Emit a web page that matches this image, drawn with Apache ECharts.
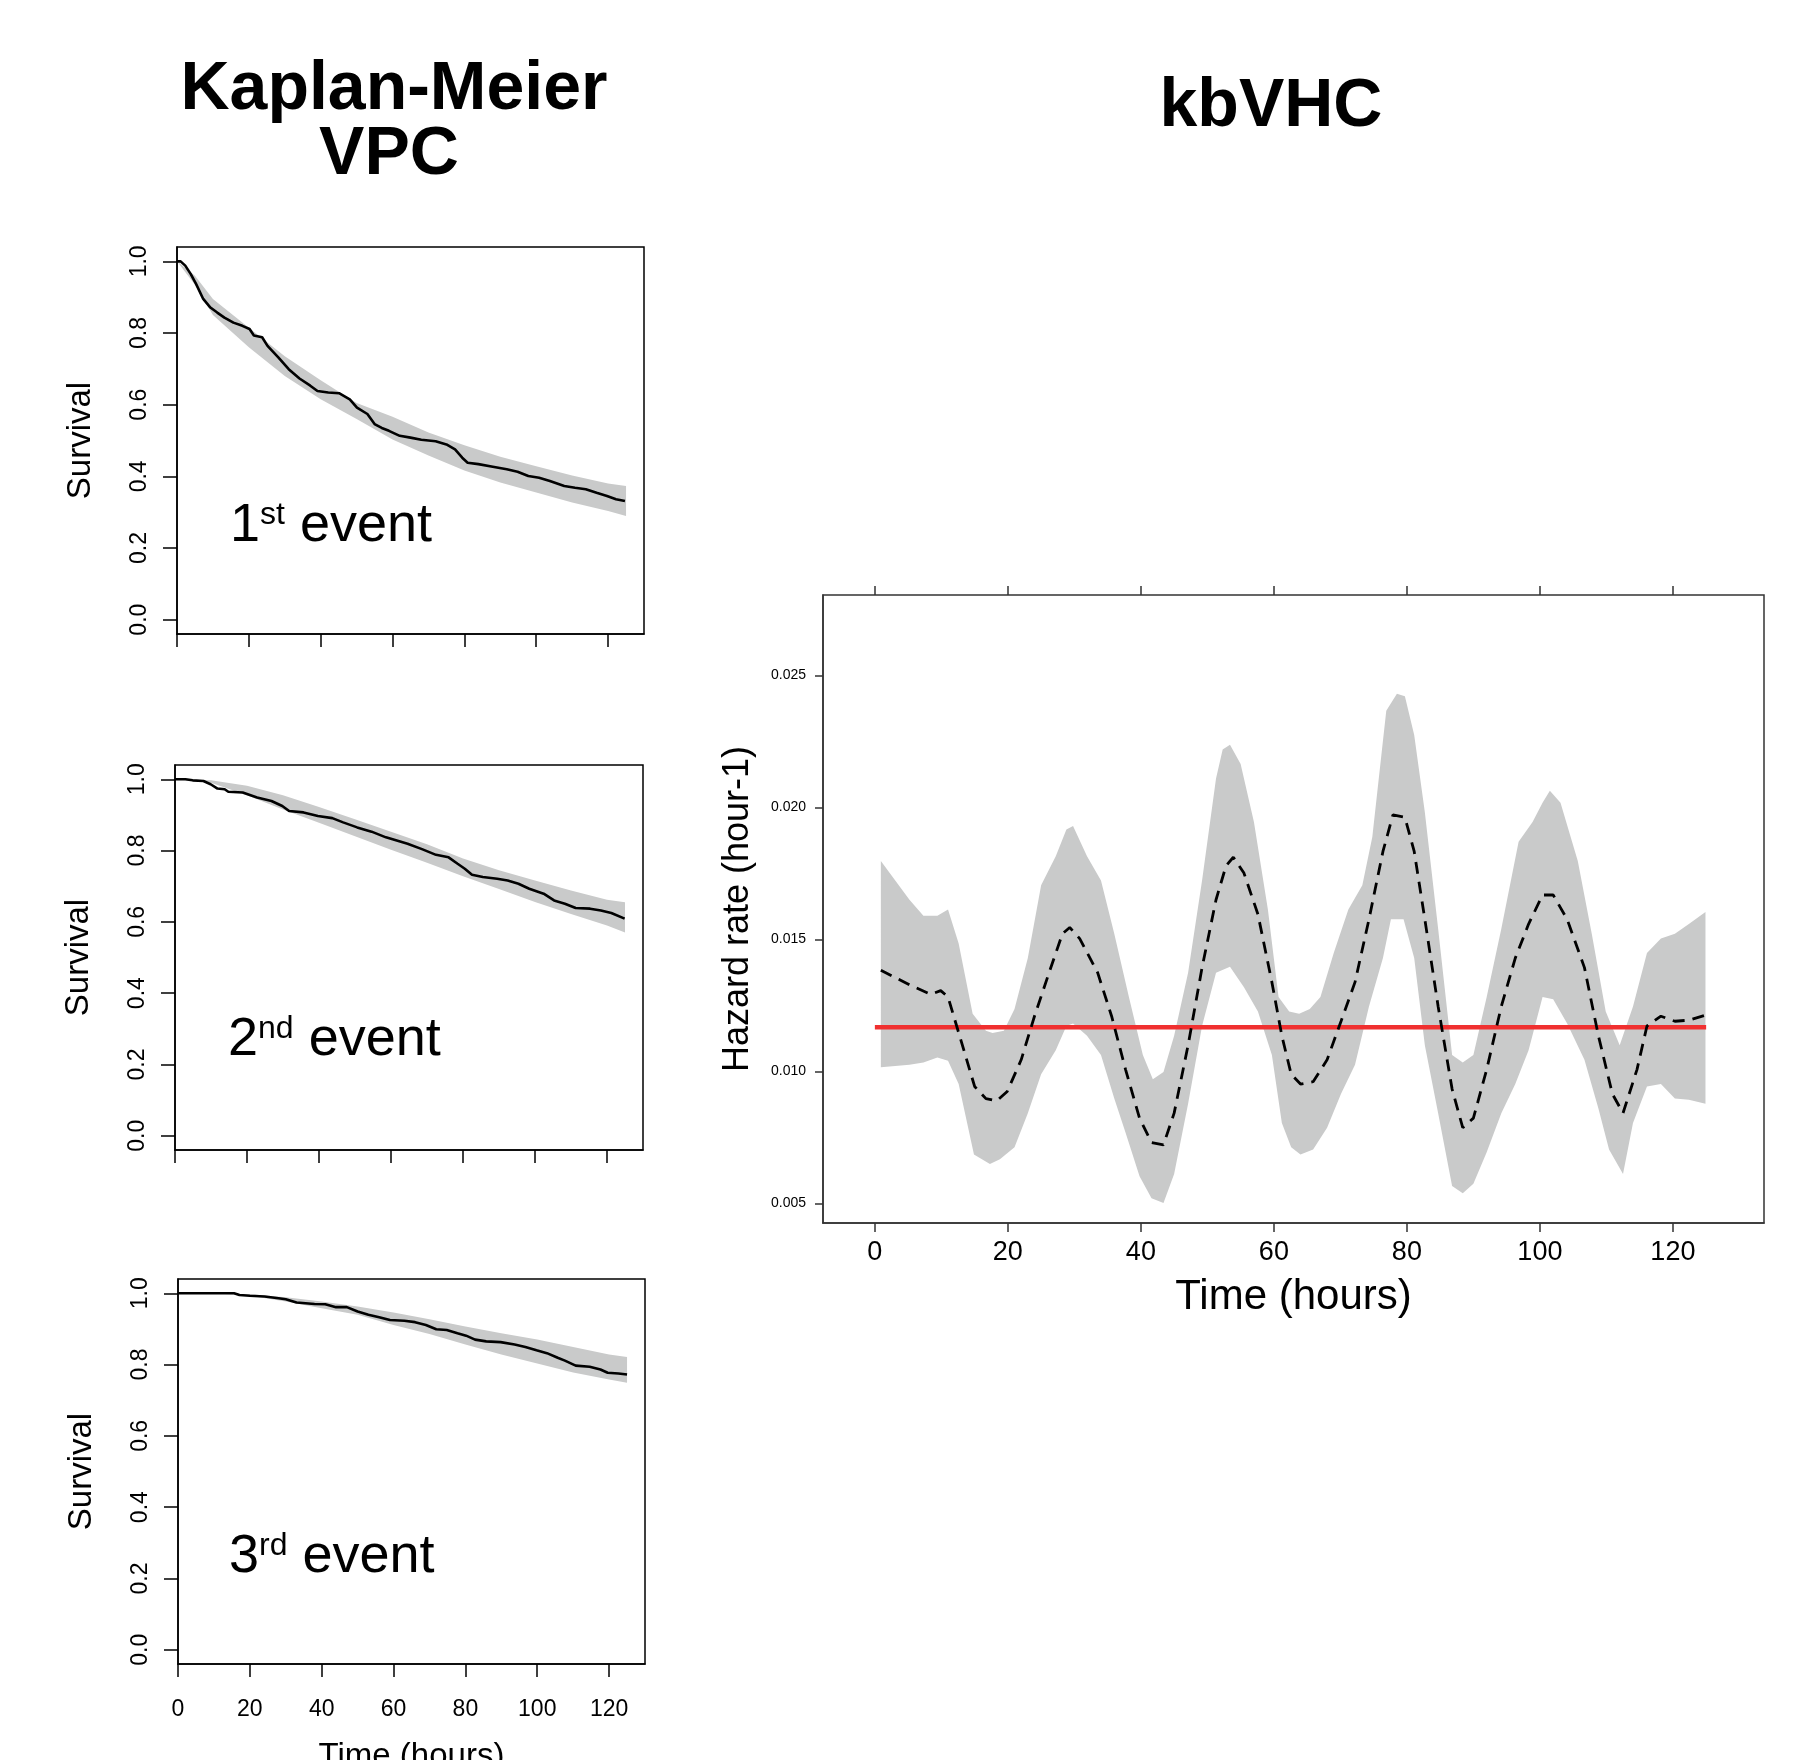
<!DOCTYPE html>
<html>
<head>
<meta charset="utf-8">
<script src="https://cdn.jsdelivr.net/npm/echarts@6/dist/echarts.min.js"></script>
<style>
  html, body { margin: 0; padding: 0; background: #ffffff; }
  #main { width: 1793px; height: 1760px; }
</style>
</head>
<body>
<div id="main"></div>
<script>
// Kaplan-Meier VPC, 1st event: observed curve and prediction band
var km1Time = [0, 1, 2.3, 3.8, 5.3, 7.3, 9.3, 11.2, 13.2, 15.7, 18.2, 20.2, 21.4, 23.7, 25.2, 28.2, 31.1, 34.1, 37.1, 39.1, 42.1, 45.1, 48.1, 50.1, 53, 55, 57, 59, 62, 65, 68, 72, 75, 77.4, 79.4, 80.9, 83.9, 87.9, 91.8, 94.8, 97.8, 100.8, 103.8, 107.8, 110.8, 113.8, 116.8, 119.7, 122.2, 124.7];
var km1Surv = [1.0, 1.0, 0.988, 0.965, 0.937, 0.895, 0.871, 0.857, 0.843, 0.829, 0.82, 0.811, 0.793, 0.788, 0.764, 0.732, 0.699, 0.673, 0.653, 0.638, 0.634, 0.632, 0.615, 0.592, 0.574, 0.546, 0.535, 0.527, 0.513, 0.508, 0.502, 0.498, 0.489, 0.475, 0.452, 0.438, 0.434, 0.427, 0.42, 0.413, 0.401, 0.396, 0.387, 0.373, 0.368, 0.364, 0.354, 0.345, 0.336, 0.331];
var km1BandTime = [0, 5, 10, 20, 30, 40, 50, 60, 70, 80, 90, 100, 110, 120, 125];
var km1Upper = [1.0, 0.96, 0.895, 0.815, 0.735, 0.668, 0.605, 0.566, 0.522, 0.487, 0.455, 0.428, 0.402, 0.38, 0.373];
var km1Lower = [1.0, 0.935, 0.85, 0.76, 0.68, 0.615, 0.56, 0.503, 0.458, 0.416, 0.383, 0.355, 0.327, 0.303, 0.289];

// 2nd event
var km2Time = [0, 2.9, 4.9, 7.9, 9.9, 11.8, 13.8, 14.8, 18.8, 22.8, 26.8, 29.8, 31.7, 35.7, 39.7, 43.7, 46.7, 50.6, 54.6, 58.6, 61.6, 64.6, 68.6, 72.5, 76, 78.5, 80.5, 82.5, 85.5, 89.5, 92.4, 95.4, 98.4, 102.4, 105.3, 108.3, 111.3, 115.3, 118.3, 121.2, 124.9];
var km2Surv = [1.0, 1.0, 0.997, 0.995, 0.986, 0.974, 0.972, 0.965, 0.963, 0.949, 0.939, 0.925, 0.911, 0.907, 0.897, 0.891, 0.879, 0.865, 0.853, 0.837, 0.828, 0.819, 0.804, 0.788, 0.781, 0.763, 0.749, 0.732, 0.726, 0.721, 0.716, 0.707, 0.693, 0.679, 0.66, 0.651, 0.639, 0.637, 0.632, 0.625, 0.609];
var km2BandTime = [0, 10, 20, 30, 40, 50, 60, 70, 80, 90, 100, 110, 120, 125];
var km2Upper = [1.0, 0.997, 0.982, 0.955, 0.922, 0.888, 0.853, 0.818, 0.778, 0.745, 0.716, 0.688, 0.662, 0.655];
var km2Lower = [1.0, 0.99, 0.955, 0.915, 0.878, 0.84, 0.802, 0.766, 0.728, 0.692, 0.656, 0.622, 0.59, 0.57];

// 3rd event
var km3Time = [0, 15.6, 17.1, 20, 24.1, 28, 30, 33, 38, 41, 44, 47, 50, 53, 56, 59, 63, 66, 69, 71.9, 74.8, 77.8, 80.2, 82.7, 85.8, 89.8, 93.7, 96.7, 99.8, 102.7, 105.7, 107.7, 110.7, 114.6, 117.6, 119.6, 122.6, 125];
var km3Surv = [1.0, 1.0, 0.995, 0.993, 0.991, 0.986, 0.983, 0.974, 0.97, 0.969, 0.961, 0.961, 0.949, 0.94, 0.933, 0.925, 0.923, 0.919, 0.911, 0.899, 0.897, 0.888, 0.881, 0.87, 0.865, 0.863, 0.856, 0.849, 0.84, 0.832, 0.819, 0.811, 0.797, 0.794, 0.786, 0.777, 0.775, 0.772];
var km3BandTime = [0, 10, 20, 30, 40, 50, 60, 70, 80, 90, 100, 110, 120, 125];
var km3Upper = [1.0, 1.0, 0.997, 0.989, 0.977, 0.963, 0.946, 0.927, 0.907, 0.888, 0.87, 0.849, 0.828, 0.821];
var km3Lower = [1.0, 1.0, 0.993, 0.977, 0.958, 0.94, 0.911, 0.886, 0.856, 0.828, 0.803, 0.778, 0.758, 0.749];

// kbVHC: hazard rate, median (dashed), prediction band, observed constant hazard (red)
var hazMeanX = [0.9, 5.2, 8.4, 9.9, 11, 12.3, 13.6, 15, 16.7, 18.3, 19.9, 22, 24, 26.2, 28.2, 29.3, 30.8, 33.5, 35.6, 37.7, 39.8, 41.6, 43.4, 45, 47.1, 49.2, 51.3, 52.8, 53.9, 55.5, 57.6, 59.7, 61.2, 62.6, 64, 65.9, 68, 70.1, 72.2, 74.3, 76.4, 77.9, 79.7, 81.1, 82.7, 84.7, 86.8, 88.4, 90, 92, 94.2, 96.3, 98.3, 100.4, 102, 104.1, 106.7, 108.8, 110.9, 112.5, 114.6, 116.1, 118.2, 120.3, 122.4, 124.9];
var hazMean = [0.01383, 0.01328, 0.01292, 0.01306, 0.01282, 0.01172, 0.01062, 0.00943, 0.00897, 0.00888, 0.00924, 0.01044, 0.01209, 0.01374, 0.01521, 0.01545, 0.01503, 0.01374, 0.01209, 0.01007, 0.00823, 0.00731, 0.00722, 0.00842, 0.01099, 0.01393, 0.0165, 0.01778, 0.01811, 0.01751, 0.01595, 0.01338, 0.01135, 0.00989, 0.00952, 0.00961, 0.01044, 0.0119, 0.01338, 0.01576, 0.01833, 0.01971, 0.01962, 0.01833, 0.01576, 0.01246, 0.00933, 0.00787, 0.00823, 0.01007, 0.01246, 0.01429, 0.01558, 0.01668, 0.01668, 0.01576, 0.01393, 0.01135, 0.00915, 0.00842, 0.01007, 0.01172, 0.01209, 0.0119, 0.01194, 0.01213];
var hazUpX = [0.9, 5.2, 7.3, 9.4, 11, 12.6, 14.7, 16.7, 17.7, 19.4, 21, 23, 25, 27.2, 28.8, 29.8, 31.9, 34, 36, 38.2, 40.3, 41.8, 43.4, 45, 47.1, 49.2, 51.3, 52.3, 53.4, 55, 57, 59.1, 60.7, 62.3, 63.8, 65.4, 67, 69, 71.2, 73.3, 74.8, 76.9, 78.5, 79.7, 81.1, 82.7, 84.7, 86.8, 88.4, 90, 92, 94.2, 96.8, 98.9, 100.4, 101.5, 103.1, 105.7, 107.8, 109.9, 112, 114, 116.1, 118.2, 120.3, 122.4, 124.9];
var hazUp = [0.01797, 0.0165, 0.01589, 0.01589, 0.01613, 0.01484, 0.01218, 0.01154, 0.01145, 0.01154, 0.01236, 0.01429, 0.01705, 0.01815, 0.01916, 0.01929, 0.01815, 0.01723, 0.01521, 0.01282, 0.01062, 0.0097, 0.00998, 0.01135, 0.01374, 0.01723, 0.02109, 0.02219, 0.02237, 0.02164, 0.01944, 0.01613, 0.01282, 0.01227, 0.01218, 0.01236, 0.01282, 0.01448, 0.01613, 0.01705, 0.01888, 0.02366, 0.0243, 0.02421, 0.02274, 0.01981, 0.0154, 0.01062, 0.01034, 0.01062, 0.01282, 0.0154, 0.0187, 0.01944, 0.02017, 0.02063, 0.02017, 0.01797, 0.01521, 0.01227, 0.01099, 0.01246, 0.01448, 0.01503, 0.01521, 0.01558, 0.01604];
var hazLoX = [0.9, 5.2, 7.3, 9.4, 11, 12.6, 14.9, 17.3, 18.8, 21, 23, 25, 27.2, 28.8, 29.8, 31.9, 34, 36, 37.7, 39.8, 41.6, 43.4, 45, 47.1, 49.2, 51.3, 53.4, 55.5, 57.6, 59.7, 61.2, 62.6, 64, 65.9, 68, 70.1, 72.2, 74.3, 76.4, 77.6, 79.5, 81.1, 82.7, 84.7, 86.8, 88.4, 90, 92, 94.2, 96.3, 98.3, 100.4, 102, 104.1, 106.7, 108.8, 110.4, 112.5, 114, 116.1, 118.2, 120.3, 122.4, 124.9];
var hazLo = [0.01016, 0.01025, 0.01034, 0.01053, 0.0104, 0.00952, 0.00685, 0.00649, 0.00667, 0.00713, 0.00842, 0.00989, 0.0108, 0.01172, 0.01181, 0.01135, 0.01062, 0.00897, 0.00768, 0.00603, 0.0052, 0.00502, 0.00612, 0.00878, 0.01172, 0.01374, 0.01396, 0.01319, 0.01227, 0.01062, 0.00805, 0.00713, 0.00685, 0.00704, 0.00787, 0.00915, 0.01025, 0.01246, 0.01429, 0.01576, 0.01576, 0.01429, 0.01099, 0.00842, 0.00566, 0.00539, 0.00575, 0.00694, 0.00842, 0.00952, 0.0108, 0.01282, 0.01273, 0.01181, 0.01044, 0.0086, 0.00704, 0.00612, 0.00805, 0.00943, 0.00952, 0.00897, 0.00893, 0.00878];
var hazObsX = [0, 125];
var hazObs = [0.01167, 0.01167];

// tick labels
var kmTimeTicks = [0, 20, 40, 60, 80, 100, 120];
var survTicks = [0, 0.2, 0.4, 0.6, 0.8, 1.0];
var hazTimeTicks = [0, 20, 40, 60, 80, 100, 120];
var hazTicks = [0.005, 0.010, 0.015, 0.020, 0.025];

var FONT = 'Liberation Sans, Arial, Helvetica, sans-serif';

function zip(xs, ys) {
    return xs.map(function (x, i) { return [x, ys[i]]; });
}

// band polygon: upper edge forward, lower edge backwards, through the axis scales
function bandSeries(idx, upX, upY, loX, loY) {
    return {
        type: 'custom',
        xAxisIndex: idx,
        yAxisIndex: idx,
        silent: true,
        z: 1,
        data: [[upX[0], upY[0]]],
        renderItem: function (params, api) {
            var pts = [];
            for (var i = 0; i < upX.length; i++) pts.push(api.coord([upX[i], upY[i]]));
            for (var j = loX.length - 1; j >= 0; j--) pts.push(api.coord([loX[j], loY[j]]));
            return {
                type: 'polygon',
                shape: { points: pts },
                style: { fill: '#c9caca', stroke: null }
            };
        }
    };
}

// left panels (Kaplan-Meier)
var kmGrids = [
    { left: 177, top: 247, width: 467, height: 387 },
    { left: 175, top: 765, width: 468, height: 385 },
    { left: 178, top: 1279, width: 467, height: 385 }
];

var grids = [], xAxes = [], yAxes = [], series = [];

kmGrids.forEach(function (g, i) {
    grids.push({ left: g.left, top: g.top, width: g.width, height: g.height, outerBoundsMode: 'none',
                 show: true, borderColor: '#000', borderWidth: 1.5, backgroundColor: 'transparent' });
    xAxes.push({
        type: 'value', gridIndex: i, min: 0, max: 130,
        axisLine: { show: true, onZero: false, lineStyle: { color: '#000', width: 1.5 } },
        axisTick: { show: true, customValues: kmTimeTicks, length: 13, lineStyle: { color: '#000', width: 1.5 } },
        axisLabel: { show: i === 2, customValues: kmTimeTicks, fontSize: 23, color: '#000', fontFamily: FONT, margin: 34 },
        splitLine: { show: false },
        name: i === 2 ? 'Time (hours)' : '',
        nameLocation: 'middle', nameGap: 76,
        nameTextStyle: { fontSize: 33, color: '#000', fontFamily: FONT }
    });
    yAxes.push({
        type: 'value', gridIndex: i, min: -0.04, max: 1.04,
        axisLine: { show: true, onZero: false, lineStyle: { color: '#000', width: 1.5 } },
        axisTick: { show: true, customValues: survTicks, length: 14, lineStyle: { color: '#000', width: 1.5 } },
        axisLabel: { show: true, customValues: survTicks, rotate: 90, fontSize: 23, color: '#000', fontFamily: FONT, margin: 26,
                     formatter: function (v) { return v.toFixed(1); } },
        splitLine: { show: false },
        name: 'Survival', nameLocation: 'middle', nameRotate: 90, nameGap: 80,
        nameTextStyle: { fontSize: 33, color: '#000', fontFamily: FONT }
    });
});

series.push(bandSeries(0, km1BandTime, km1Upper, km1BandTime, km1Lower));
series.push(bandSeries(1, km2BandTime, km2Upper, km2BandTime, km2Lower));
series.push(bandSeries(2, km3BandTime, km3Upper, km3BandTime, km3Lower));
[[km1Time, km1Surv], [km2Time, km2Surv], [km3Time, km3Surv]].forEach(function (d, i) {
    series.push({
        type: 'line', xAxisIndex: i, yAxisIndex: i, z: 3,
        data: zip(d[0], d[1]), showSymbol: false, silent: true,
        lineStyle: { color: '#000', width: 2.6 }
    });
});

// right panel (kbVHC)
grids.push({ left: 823, top: 595, width: 941, height: 628, outerBoundsMode: 'none',
             show: true, borderColor: '#333', borderWidth: 1.5, backgroundColor: 'transparent' });
xAxes.push({
    type: 'value', gridIndex: 3, min: -7.8, max: 133.7, position: 'bottom',
    axisLine: { show: true, onZero: false, lineStyle: { color: '#333', width: 1.5 } },
    axisTick: { show: true, customValues: hazTimeTicks, length: 9, lineStyle: { color: '#333', width: 1.5 } },
    axisLabel: { show: true, customValues: hazTimeTicks, fontSize: 27, color: '#000', fontFamily: FONT, margin: 16 },
    splitLine: { show: false },
    name: 'Time (hours)', nameLocation: 'middle', nameGap: 53,
    nameTextStyle: { fontSize: 42, color: '#000', fontFamily: FONT }
});
xAxes.push({
    type: 'value', gridIndex: 3, min: -7.8, max: 133.7, position: 'top',
    axisLine: { show: false },
    axisTick: { show: true, customValues: hazTimeTicks, length: 9, lineStyle: { color: '#333', width: 1.5 } },
    axisLabel: { show: false },
    splitLine: { show: false }
});
yAxes.push({
    type: 'value', gridIndex: 3, min: 0.00426, max: 0.02804,
    axisLine: { show: true, onZero: false, lineStyle: { color: '#333', width: 1.5 } },
    axisTick: { show: true, customValues: hazTicks, length: 8, lineStyle: { color: '#333', width: 1.5 } },
    axisLabel: { show: true, customValues: hazTicks, fontSize: 14, color: '#000', fontFamily: FONT, margin: 17,
                 formatter: function (v) { return v.toFixed(3); } },
    splitLine: { show: false },
    name: 'Hazard rate (hour-1)', nameLocation: 'middle', nameRotate: 90, nameGap: 67,
    nameTextStyle: { fontSize: 36, color: '#000', fontFamily: FONT }
});

series.push(bandSeries(3, hazUpX, hazUp, hazLoX, hazLo));
series.push({
    type: 'line', xAxisIndex: 3, yAxisIndex: 3, z: 3,
    data: zip(hazObsX, hazObs), showSymbol: false, silent: true,
    lineStyle: { color: '#f03030', width: 4.5 }
});
series.push({
    type: 'line', xAxisIndex: 3, yAxisIndex: 3, z: 4,
    data: zip(hazMeanX, hazMean), showSymbol: false, silent: true,
    lineStyle: { color: '#000', width: 2.8, type: [12, 8] }
});

function eventLabel(x, y, num, sup) {
    return {
        type: 'text', x: x, y: y, z: 10,
        style: {
            text: '{n|' + num + '}{s|' + sup + '}{n| event}',
            verticalAlign: 'middle',
            rich: {
                n: { fontSize: 54, fontFamily: FONT, fill: '#000', color: '#000' },
                s: { fontSize: 32, fontFamily: FONT, fill: '#000', color: '#000', verticalAlign: 'top' }
            }
        }
    };
}

var chart = echarts.init(document.getElementById('main'), null, { renderer: 'canvas' });
chart.setOption({
    backgroundColor: '#ffffff',
    animation: false,
    grid: grids,
    xAxis: xAxes,
    yAxis: yAxes,
    series: series,
    graphic: [
        { type: 'text', x: 394, y: 90, style: { text: 'Kaplan-Meier', font: 'bold 68px ' + FONT, fill: '#000', align: 'center', verticalAlign: 'middle' } },
        { type: 'text', x: 389, y: 155, style: { text: 'VPC', font: 'bold 68px ' + FONT, fill: '#000', align: 'center', verticalAlign: 'middle' } },
        { type: 'text', x: 1271, y: 107, style: { text: 'kbVHC', font: 'bold 68px ' + FONT, fill: '#000', align: 'center', verticalAlign: 'middle' } },
        eventLabel(230, 526, '1', 'st'),
        eventLabel(228, 1040, '2', 'nd'),
        eventLabel(229, 1557, '3', 'rd')
    ]
});
</script>
</body>
</html>
